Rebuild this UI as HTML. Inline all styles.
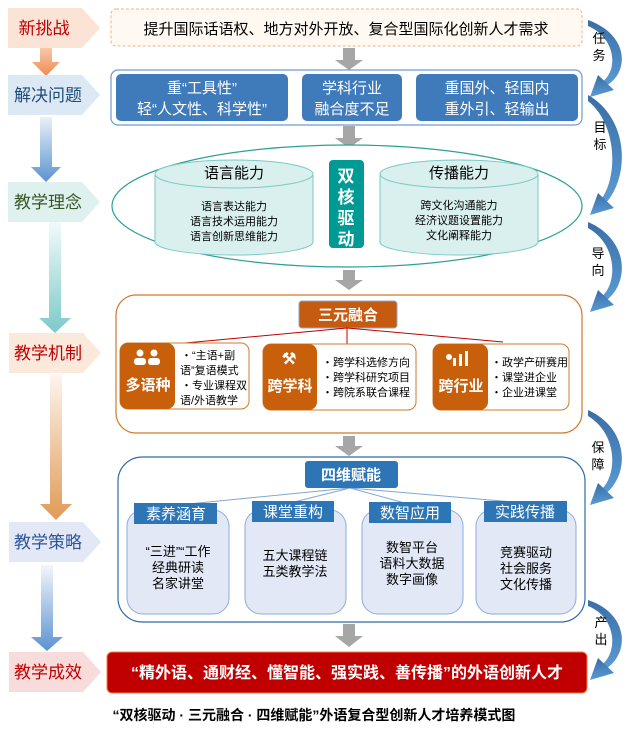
<!DOCTYPE html>
<html><head><meta charset="utf-8"><style>
html,body{margin:0;padding:0;background:#fff;}
svg{display:block;}
text{font-family:"Liberation Sans","Noto Sans CJK SC",sans-serif;}
</style></head><body>
<svg width="628" height="734" viewBox="0 0 628 734" xmlns="http://www.w3.org/2000/svg">
<defs>
<linearGradient id="gb" x1="0" y1="0" x2="0" y2="1"><stop offset="0" stop-color="#e8f0fa"/><stop offset="1" stop-color="#5b93cf"/></linearGradient>
<linearGradient id="gt" x1="0" y1="0" x2="0" y2="1"><stop offset="0" stop-color="#f2fafa"/><stop offset="1" stop-color="#7ccac8"/></linearGradient>
<linearGradient id="go" x1="0" y1="0" x2="0" y2="1"><stop offset="0" stop-color="#fdf5ef"/><stop offset="1" stop-color="#e09a55"/></linearGradient>
<linearGradient id="go2" x1="0" y1="0" x2="0" y2="1"><stop offset="0" stop-color="#f8c8a8"/><stop offset="1" stop-color="#f08a50"/></linearGradient>
<linearGradient id="gb2" x1="0" y1="0" x2="0" y2="1"><stop offset="0" stop-color="#f2f6fc"/><stop offset="1" stop-color="#5b93cf"/></linearGradient>
<linearGradient id="ca" x1="0" y1="0" x2="0" y2="1"><stop offset="0" stop-color="#3a6ea5"/><stop offset="1" stop-color="#5b9bd5"/></linearGradient>
</defs>

<!-- left column arrows -->
<path d="M40 48h12v14h8l-14 14-14-14h8z" fill="url(#go2)"/>
<path d="M40 117h12v50h9l-15 15-15-15h9z" fill="url(#gb)"/>
<path d="M49 222h12v96h10l-16 15-16-15h10z" fill="url(#gt)"/>
<path d="M50 374h12v130h10l-16 16-16-16h10z" fill="url(#go)"/>
<path d="M41 565h12v72h10l-16 14-16-14h10z" fill="url(#gb2)"/>

<!-- left pentagons -->
<path d="M8 8h74l18 20-18 20h-74z" fill="#fbe3d6"/>
<text x="44" y="34" font-size="17" fill="#c00000" text-anchor="middle">新挑战</text>
<path d="M8 75h74l18 20-18 20h-74z" fill="#dde8f5"/>
<text x="48" y="101" font-size="17" fill="#1f4e79" text-anchor="middle">解决问题</text>
<path d="M8 182h74l18 20-18 20h-74z" fill="#dff1ef"/>
<text x="48" y="208" font-size="17" fill="#375623" text-anchor="middle">教学理念</text>
<path d="M9 333h74l18 20-18 20h-74z" fill="#fbe9dc"/>
<text x="48" y="359" font-size="17" fill="#c00000" text-anchor="middle">教学机制</text>
<path d="M9 522h74l18 20-18 20h-74z" fill="#e2e8f6"/>
<text x="48" y="548" font-size="17" fill="#2f5597" text-anchor="middle">教学策略</text>
<path d="M9 652h74l18 20-18 20h-74z" fill="#f8dcdc"/>
<text x="48" y="678" font-size="17" fill="#c00000" text-anchor="middle">教学成效</text>

<!-- gray arrows center -->
<g fill="#a6a6a6">
<path d="M343 48h12v12h8l-14 10-14-10h8z"/>
<path d="M343 126h12v12h8l-14 10-14-10h8z"/>
<path d="M343 270h12v10h8l-14 10-14-10h8z"/>
<path d="M343 436h12v10h8l-14 10-14-10h8z"/>
<path d="M343 624h12v12h8l-14 11-14-11h8z"/>
</g>

<!-- top box -->
<rect x="111" y="9" width="471" height="37" rx="5" fill="#fff9f2" stroke="#f4b183" stroke-dasharray="3,2"/>
<text x="346" y="34" font-size="15" fill="#000" text-anchor="middle">提升国际话语权、地方对外开放、复合型国际化创新人才需求</text>

<!-- solve box -->
<rect x="111" y="70" width="471" height="55" rx="7" fill="#fff" stroke="#6d9bd1" stroke-width="1.2"/>
<rect x="116" y="74" width="172" height="47" rx="5" fill="#3f7bbb"/>
<rect x="302" y="74" width="100" height="47" rx="5" fill="#3f7bbb"/>
<rect x="416" y="74" width="162" height="47" rx="5" fill="#3f7bbb"/>
<g font-size="15" fill="#fff" text-anchor="middle">
<text x="202" y="93">重“工具性”</text><text x="202" y="114">轻“人文性、科学性”</text>
<text x="352" y="93">学科行业</text><text x="352" y="114">融合度不足</text>
<text x="497" y="93">重国外、轻国内</text><text x="497" y="114">重外引、轻输出</text>
</g>

<!-- ellipse -->
<ellipse cx="347" cy="206" rx="235" ry="61" fill="#fff" stroke="#2aa198" stroke-width="1.2"/>
<g stroke="#7cc9c3" fill="#d9f0ee">
<path d="M155 174v68a79 13 0 0 0 158 0v-68"/>
<ellipse cx="234" cy="174" rx="79" ry="14"/>
<path d="M380 174v68a79 13 0 0 0 158 0v-68"/>
<ellipse cx="459" cy="174" rx="79" ry="14"/>
</g>
<text x="234" y="178" font-size="15" text-anchor="middle">语言能力</text>
<text x="459" y="178" font-size="15" text-anchor="middle">传播能力</text>
<g font-size="11" text-anchor="middle">
<text x="234" y="210">语言表达能力</text><text x="234" y="225">语言技术运用能力</text><text x="234" y="240">语言创新思维能力</text>
<text x="459" y="209">跨文化沟通能力</text><text x="459" y="224">经济议题设置能力</text><text x="459" y="239">文化阐释能力</text>
</g>
<rect x="329" y="160" width="35" height="88" rx="4" fill="#009a94"/>
<g font-size="17" font-weight="bold" fill="#fff" text-anchor="middle">
<text x="346" y="182">双</text><text x="346" y="203">核</text><text x="346" y="224">驱</text><text x="346" y="245">动</text>
</g>

<!-- mechanism -->
<rect x="116" y="295" width="466" height="138" rx="20" fill="#fff" stroke="#d07a2b" stroke-width="1.2"/>
<rect x="299" y="301" width="98" height="27" rx="3" fill="#c55a11" stroke="#8fa8c8"/>
<text x="348" y="320" font-size="15" font-weight="bold" fill="#fff" text-anchor="middle">三元融合</text>
<g stroke="#c00000" fill="none"><path d="M347 328L185 343M347 328V345M347 328L503 342"/></g>
<rect x="120" y="343" width="129" height="66" rx="8" fill="#fff" stroke="#d07a2b"/>
<rect x="120" y="343" width="55" height="66" rx="8" fill="#c8600b"/>
<rect x="263" y="344" width="153" height="66" rx="8" fill="#fff" stroke="#d07a2b"/>
<rect x="263" y="344" width="54" height="66" rx="8" fill="#c8600b"/>
<rect x="433" y="344" width="136" height="66" rx="8" fill="#fff" stroke="#d07a2b"/>
<rect x="433" y="344" width="55" height="66" rx="8" fill="#c8600b"/>
<g fill="#fff">
<circle cx="140" cy="353" r="3.5"/><circle cx="154" cy="353" r="3.5"/><rect x="134" y="358" width="12" height="7" rx="3"/><rect x="148" y="358" width="12" height="7" rx="3"/>
<text x="289" y="364" font-size="16" font-weight="bold" text-anchor="middle">⚒</text>
<rect x="453" y="358" width="3" height="8"/><rect x="459" y="354" width="3" height="12"/><rect x="465" y="351" width="3" height="15"/><circle cx="449" cy="357" r="3"/>
</g>
<g font-size="15" font-weight="bold" fill="#fff" text-anchor="middle">
<text x="148" y="390">多语种</text><text x="290" y="391">跨学科</text><text x="461" y="391">跨行业</text>
</g>
<g font-size="11" fill="#000">
<text x="181" y="359">・“主语+副</text><text x="180" y="374">语”复语模式</text><text x="181" y="389">・专业课程双</text><text x="180" y="404">语/外语教学</text>
<text x="322" y="366">・跨学科选修方向</text><text x="322" y="381">・跨学科研究项目</text><text x="322" y="396">・跨院系联合课程</text>
<text x="491" y="366">・政学产研赛用</text><text x="491" y="381">・课堂进企业</text><text x="491" y="396">・企业进课堂</text>
</g>

<!-- strategy -->
<rect x="118" y="457" width="467" height="165" rx="24" fill="#fff" stroke="#2e6ca8" stroke-width="1.2"/>
<g stroke="#7fa6d6" fill="none"><path d="M350 488L178 505M350 488L290 503M350 488L412 505M350 488L525 503"/></g>
<rect x="305" y="461" width="93" height="27" rx="3" fill="#2e75b6"/>
<text x="351" y="480" font-size="15" font-weight="bold" fill="#fff" text-anchor="middle">四维赋能</text>
<g fill="#e2e8f6" stroke="#8faadc">
<rect x="127" y="510" width="102" height="104" rx="16"/>
<rect x="245" y="510" width="101" height="104" rx="16"/>
<rect x="362" y="510" width="101" height="104" rx="16"/>
<rect x="476" y="510" width="100" height="104" rx="16"/>
</g>
<g fill="#2e75b6">
<rect x="134" y="503" width="83" height="21"/><rect x="252" y="501" width="82" height="21"/><rect x="369" y="502" width="82" height="21"/><rect x="484" y="501" width="83" height="21"/>
</g>
<g font-size="15" fill="#fff" text-anchor="middle">
<text x="176" y="519">素养涵育</text><text x="293" y="517">课堂重构</text><text x="410" y="518">数智应用</text><text x="525" y="517">实践传播</text>
</g>
<g font-size="13" fill="#000" text-anchor="middle">
<text x="178" y="556">“三进”“工作</text><text x="178" y="572">经典研读</text><text x="178" y="588">名家讲堂</text>
<text x="295" y="560">五大课程链</text><text x="295" y="576">五类教学法</text>
<text x="412" y="552">数智平台</text><text x="412" y="568">语料大数据</text><text x="412" y="584">数字画像</text>
<text x="526" y="557">竞赛驱动</text><text x="526" y="573">社会服务</text><text x="526" y="589">文化传播</text>
</g>

<!-- result -->
<rect x="107" y="652" width="480" height="41" rx="5" fill="#c00000" stroke="#f08040"/>
<text x="347" y="678" font-size="16" font-weight="bold" fill="#fff" text-anchor="middle">“精外语、通财经、懂智能、强实践、善传播”的外语创新人才</text>
<text x="314" y="720" font-size="14" font-weight="bold" fill="#000" text-anchor="middle">“双核驱动 · 三元融合 · 四维赋能”外语复合型创新人才培养模式图</text>

<!-- right curved arrows -->
<g fill="url(#ca)">
<path d="M588 20C630 35 630 74 604 87L600 83C618 74 618 39 588 26Z"/><path d="M590 97L598 75L614 90Z"/>
<path d="M588 95C630 119 630 179 604 205L600 201C618 179 618 125 588 101Z"/><path d="M590 215L598 193L614 208Z"/>
<path d="M588 222C630 240 630 285 604 302L600 298C618 285 618 245 588 228Z"/><path d="M590 312L598 290L614 305Z"/>
<path d="M588 410C630 429 630 476 604 495L600 491C618 476 618 434 588 416Z"/><path d="M590 505L598 483L614 498Z"/>
<path d="M588 600C630 614 630 655 604 670L600 666C618 655 618 618 588 606Z"/><path d="M590 680L598 658L614 673Z"/>
</g>
<g font-size="13" fill="#000" text-anchor="middle">
<text x="599" y="43">任</text><text x="599" y="60">务</text>
<text x="600" y="132">目</text><text x="600" y="149">标</text>
<text x="598" y="258">导</text><text x="598" y="275">向</text>
<text x="598" y="452">保</text><text x="598" y="469">障</text>
<text x="601" y="627">产</text><text x="601" y="644">出</text>
</g>
</svg>
</body></html>
